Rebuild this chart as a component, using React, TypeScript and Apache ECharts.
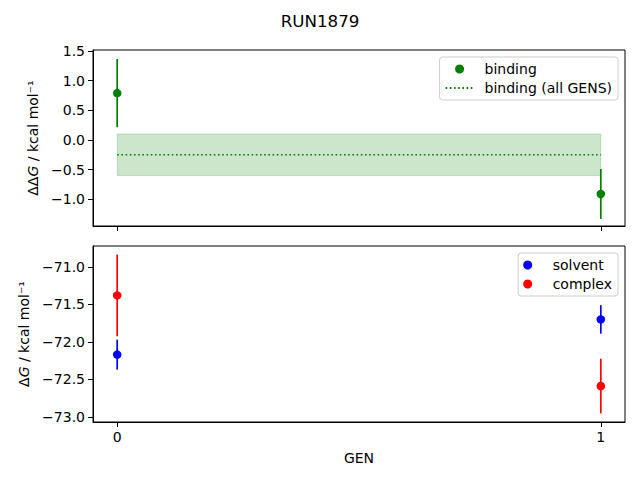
import React, { useEffect, useRef } from "react";
import * as echarts from "echarts";

const gens = [0, 1];
const genLabels = ["0", "1"];
const bindingValues = [0.79, -0.91];
const bindingErrors = [0.575, 0.42];
const bindingAllValue = -0.25;
const bindingAllError = 0.35;
const solventValues = [-72.17, -71.7];
const solventErrors = [0.2, 0.19];
const complexValues = [-71.38, -72.59];
const complexErrors = [0.545, 0.365];
const topTicks = [-1.0, -0.5, 0.0, 0.5, 1.0, 1.5];
const bottomTicks = [-73.0, -72.5, -72.0, -71.5, -71.0];

const FONT = "DejaVu Sans";
const fmt = (v: number) => v.toFixed(1).replace("-", "\u2212");

function errRender(color: string) {
  return (params: any, api: any) => {
    const a = api.coord([api.value(0), api.value(1)]);
    const b = api.coord([api.value(0), api.value(2)]);
    return {
      type: "line",
      shape: { x1: a[0], y1: a[1], x2: b[0], y2: b[1] },
      style: { stroke: color, lineWidth: 1.7 },
    };
  };
}

export default function App() {
  const ref = useRef<HTMLDivElement>(null);
  useEffect(() => {
    if (!ref.current) return;
    const chart = echarts.init(ref.current, undefined, { renderer: "svg" });
    const axisCommon = {
      axisLine: { show: true, onZero: false, lineStyle: { color: "#000", width: 1 } },
      axisTick: { show: true, inside: false, length: 5, lineStyle: { color: "#000", width: 1 } },
      splitLine: { show: false },
    };
    const labelStyle = { color: "#000", fontSize: 14, fontFamily: FONT };
    const legendCommon = {
      orient: "vertical",
      right: 22,
      itemWidth: 28,
      itemHeight: 9,
      itemGap: 5,
      padding: [5, 6, 5, 5],
      backgroundColor: "rgba(255,255,255,0.8)",
      borderColor: "#cccccc",
      borderWidth: 1,
      borderRadius: 3,
      textStyle: { ...labelStyle, padding: [0, 0, 0, 6] },
    };
    const nameRich = {
      u: { fontSize: 14, fontFamily: FONT, color: "#000" },
      i: { fontStyle: "italic", fontSize: 14, fontFamily: FONT, color: "#000" },
      n: { fontSize: 14, fontFamily: FONT, color: "#000" },
    };
    const option: any = {
      animation: false,
      backgroundColor: "#fff",
      title: {
        text: "RUN1879",
        left: "center",
        top: 7,
        textStyle: { fontSize: 16.7, fontWeight: "normal", color: "#000", fontFamily: FONT },
      },
      grid: [
        { left: 93, right: 15, top: 50, height: 176, show: true, borderColor: "#000", borderWidth: 1 },
        { left: 93, right: 15, top: 246, height: 176, show: true, borderColor: "#000", borderWidth: 1 },
      ],
      xAxis: [
        {
          type: "value",
          gridIndex: 0,
          min: -0.05,
          max: 1.05,
          ...axisCommon,
          axisTick: { ...axisCommon.axisTick, customValues: gens },
          axisLabel: { show: false, customValues: gens },
        },
        {
          type: "value",
          gridIndex: 1,
          min: -0.05,
          max: 1.05,
          name: "GEN",
          nameLocation: "middle",
          nameGap: 29,
          nameTextStyle: labelStyle,
          ...axisCommon,
          axisTick: { ...axisCommon.axisTick, customValues: gens },
          axisLabel: {
            ...labelStyle,
            margin: 8,
            customValues: gens,
            formatter: (v: number) => genLabels[gens.indexOf(v)] ?? String(v),
          },
        },
      ],
      yAxis: [
        {
          type: "value",
          gridIndex: 0,
          min: -1.45,
          max: 1.517,
          name: "{u|ΔΔ}{i|G}{n| / kcal mol⁻¹}",
          nameLocation: "middle",
          nameRotate: 90,
          nameGap: 50,
          nameTextStyle: { ...labelStyle, rich: nameRich },
          ...axisCommon,
          axisTick: { ...axisCommon.axisTick, customValues: topTicks },
          axisLabel: { ...labelStyle, margin: 8, customValues: topTicks, formatter: fmt },
        },
        {
          type: "value",
          gridIndex: 1,
          min: -73.07,
          max: -70.72,
          name: "{u|Δ}{i|G}{n| / kcal mol⁻¹}",
          nameLocation: "middle",
          nameRotate: 90,
          nameGap: 58,
          nameTextStyle: { ...labelStyle, rich: nameRich },
          ...axisCommon,
          axisTick: { ...axisCommon.axisTick, customValues: bottomTicks },
          axisLabel: { ...labelStyle, margin: 8, customValues: bottomTicks, formatter: fmt },
        },
      ],
      legend: [
        {
          ...legendCommon,
          top: 57,
          data: [
            "binding",
            { name: "binding (all GENS)", itemStyle: { opacity: 0, color: "rgba(0,0,0,0)", borderWidth: 0 } },
          ],
        },
        {
          ...legendCommon,
          top: 253,
          data: ["solvent", "complex"],
        },
      ],
      series: [
        {
          name: "band",
          type: "custom",
          xAxisIndex: 0,
          yAxisIndex: 0,
          data: [[gens[0], gens[gens.length - 1], bindingAllValue - bindingAllError, bindingAllValue + bindingAllError]],
          renderItem: (params: any, api: any) => {
            const p1 = api.coord([api.value(0), api.value(3)]);
            const p2 = api.coord([api.value(1), api.value(2)]);
            return {
              type: "rect",
              shape: { x: p1[0], y: p1[1], width: p2[0] - p1[0], height: p2[1] - p1[1] },
              style: { fill: "rgba(0,128,0,0.2)", stroke: "rgba(0,128,0,0.2)", lineWidth: 1 },
            };
          },
          z: 1,
        },
        {
          name: "binding (all GENS)",
          type: "line",
          xAxisIndex: 0,
          yAxisIndex: 0,
          symbol: "none",
          data: [
            [gens[0], bindingAllValue],
            [gens[gens.length - 1], bindingAllValue],
          ],
          lineStyle: { color: "#008000", width: 1.6, type: [1.6, 2.6] },
          itemStyle: { color: "#008000" },
          z: 2,
        },
        {
          name: "binding-err",
          type: "custom",
          xAxisIndex: 0,
          yAxisIndex: 0,
          data: gens.map((g, i) => [g, bindingValues[i] - bindingErrors[i], bindingValues[i] + bindingErrors[i]]),
          renderItem: errRender("#008000"),
          z: 3,
        },
        {
          name: "binding",
          type: "scatter",
          xAxisIndex: 0,
          yAxisIndex: 0,
          symbolSize: 8.5,
          data: gens.map((g, i) => [g, bindingValues[i]]),
          itemStyle: { color: "#008000", opacity: 1 },
          z: 4,
        },
        {
          name: "solvent-err",
          type: "custom",
          xAxisIndex: 1,
          yAxisIndex: 1,
          data: gens.map((g, i) => [g, solventValues[i] - solventErrors[i], solventValues[i] + solventErrors[i]]),
          renderItem: errRender("#0000ff"),
          z: 3,
        },
        {
          name: "solvent",
          type: "scatter",
          xAxisIndex: 1,
          yAxisIndex: 1,
          symbolSize: 8.5,
          data: gens.map((g, i) => [g, solventValues[i]]),
          itemStyle: { color: "#0000ff", opacity: 1 },
          z: 4,
        },
        {
          name: "complex-err",
          type: "custom",
          xAxisIndex: 1,
          yAxisIndex: 1,
          data: gens.map((g, i) => [g, complexValues[i] - complexErrors[i], complexValues[i] + complexErrors[i]]),
          renderItem: errRender("#ff0000"),
          z: 3,
        },
        {
          name: "complex",
          type: "scatter",
          xAxisIndex: 1,
          yAxisIndex: 1,
          symbolSize: 8.5,
          data: gens.map((g, i) => [g, complexValues[i]]),
          itemStyle: { color: "#ff0000", opacity: 1 },
          z: 4,
        },
      ],
    };
    chart.setOption(option);
    return () => chart.dispose();
  }, []);
  return (
    <div
      ref={ref}
      style={{ position: "absolute", left: 0, top: 0, width: 640, height: 480, background: "#fff" }}
    />
  );
}
